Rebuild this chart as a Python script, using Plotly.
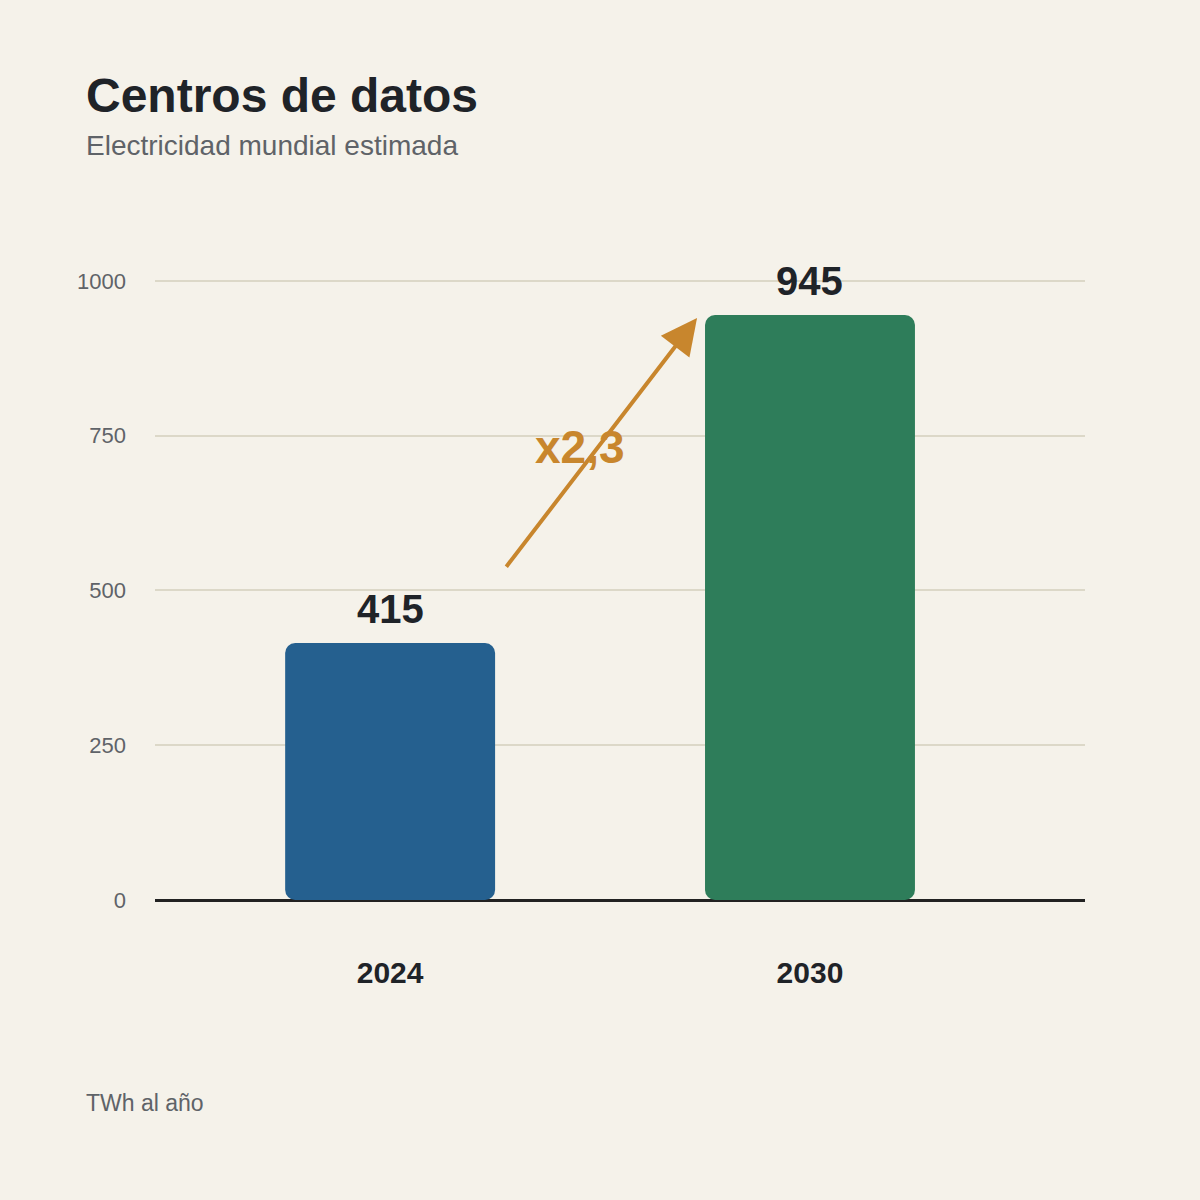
import plotly.graph_objects as go

# values (TWh per year)
years = ["2024", "2030"]
twh = [415, 945]
bar_colors = ["#25608f", "#2e7d5a"]
y_ticks = [0, 250, 500, 750, 1000]

bg = "#f5f2ea"
dark = "#1f2328"
grey = "#5f6368"
orange = "#c8862d"

fig = go.Figure()

# explicit base -> plotly rounds all four corners
fig.add_trace(go.Bar(
    x=years, y=twh, base=[0] * len(twh), width=0.5,
    marker=dict(color=bar_colors, line=dict(width=0)),
    hoverinfo="skip",
))

# value labels above bars
for i, v in enumerate(twh):
    fig.add_annotation(
        x=i, y=v, xref="x", yref="y", text=f"<b>{v}</b>", showarrow=False,
        yanchor="bottom", yshift=10,
        font=dict(size=40, color=dark),
    )

# growth arrow and factor
ratio = twh[1] / twh[0]
fig.add_annotation(
    x=0.731, y=940, ax=0.274, ay=536, xref="x", yref="y", axref="x", ayref="y",
    text="", showarrow=True, arrowhead=2, arrowsize=1.8, arrowwidth=4,
    arrowcolor=orange,
)
fig.add_annotation(
    x=0.452, y=732, xref="x", yref="y", showarrow=False,
    text="<b>x" + f"{ratio:.1f}".replace(".", ",") + "</b>",
    font=dict(size=46, color=orange),
)

# title, subtitle, footnote
left = -0.0763
fig.add_annotation(
    x=left, y=1.237, xref="paper", yref="paper", xanchor="left", yanchor="middle",
    text="<b>Centros de datos</b>", showarrow=False,
    font=dict(size=48, color=dark),
)
fig.add_annotation(
    x=left, y=1.1615, xref="paper", yref="paper", xanchor="left", yanchor="middle",
    text="Electricidad mundial estimada", showarrow=False,
    font=dict(size=28, color=grey),
)
fig.add_annotation(
    x=left, y=-0.312, xref="paper", yref="paper", xanchor="left", yanchor="middle",
    text="TWh al año", showarrow=False,
    font=dict(size=23, color=grey),
)

fig.update_layout(
    width=1200, height=1200,
    margin=dict(l=155, r=115, t=250, b=300),
    paper_bgcolor=bg, plot_bgcolor=bg,
    barcornerradius=10,
    showlegend=False,
    font=dict(family="Liberation Sans, Arial, sans-serif"),
)
fig.update_xaxes(
    type="category", range=[-0.56, 1.655],
    tickfont=dict(size=30, color=dark, weight="bold"),
    ticks="", ticklabelstandoff=52,
    showgrid=False, zeroline=False, showline=False,
)
fig.update_yaxes(
    range=[0, 1050], tickvals=y_ticks,
    tickfont=dict(size=22, color=grey),
    ticks="", ticklabelstandoff=28,
    showgrid=True, gridcolor="#dcd8c8", gridwidth=2,
    zeroline=True, zerolinecolor="#222222", zerolinewidth=3,
)

fig.write_html(
    "out.html",
    config={"displayModeBar": False},
    post_script="document.body.style.margin='0';",
)
